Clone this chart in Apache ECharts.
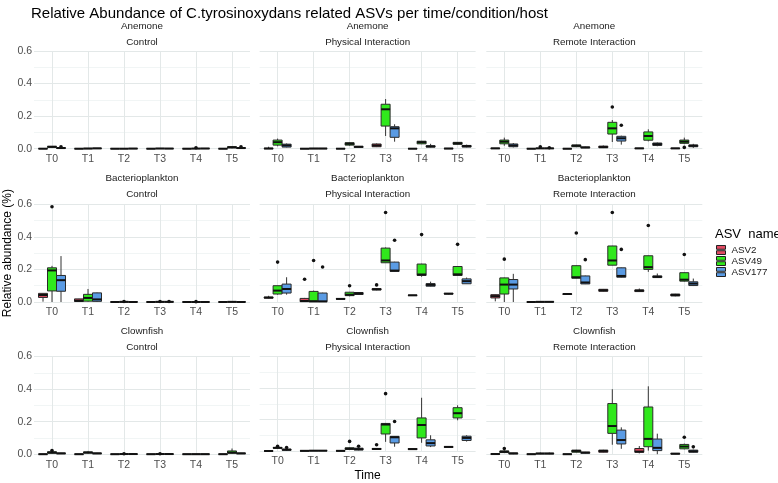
<!DOCTYPE html>
<html>
<head>
<meta charset="utf-8">
<script src="https://cdn.jsdelivr.net/npm/echarts@6/dist/echarts.min.js"></script>
<style>html,body{margin:0;padding:0;background:#fff}#chart{width:778px;height:483px}</style>
</head>
<body>
<div id="chart"></div>
<script>
// ---------- categories ----------
const times = ['T0', 'T1', 'T2', 'T3', 'T4', 'T5'];
const hosts = ['Anemone', 'Bacterioplankton', 'Clownfish'];
const conditions = ['Control', 'Physical Interaction', 'Remote Interaction'];
const asvNames = ['ASV2', 'ASV49', 'ASV177'];
const yTickLabels = ['0.0', '0.2', '0.4', '0.6'];

// ---------- box statistics per time: [min, q1, median, q3, max] ----------
// Anemone / Control
const anemCtrl_ASV2   = [[0,0,0,0.001,0.001],[0,0,0,0,0],[0,0,0,0,0],[0,0,0,0,0],[0,0,0,0,0],[0,0,0,0,0.001]];
const anemCtrl_ASV49  = [[0.004,0.008,0.012,0.014,0.015],[0,0,0.001,0.002,0.003],[0,0,0,0.001,0.001],[0,0.001,0.001,0.002,0.003],[0,0,0.001,0.001,0.002],[0.002,0.005,0.009,0.012,0.015]];
const anemCtrl_ASV177 = [[0,0.002,0.004,0.006,0.008],[0,0.001,0.002,0.003,0.004],[0,0,0.001,0.001,0.002],[0,0,0.001,0.001,0.002],[0,0.001,0.001,0.002,0.003],[0,0.002,0.004,0.006,0.008]];
const anemCtrl_out    = [[0,2,0.012],[4,1,0.006],[5,2,0.012]];
// Anemone / Physical Interaction
const anemPhys_ASV2   = [[0,0,0.001,0.003,0.012],[0,0,0,0,0],[0,0,0,0.001,0.002],[0.01,0.012,0.02,0.029,0.032],[0,0,0,0.001,0.002],[0,0,0.001,0.002,0.003]];
const anemPhys_ASV49  = [[0.015,0.022,0.04,0.053,0.062],[0,0,0.001,0.002,0.003],[0.018,0.022,0.03,0.037,0.04],[0.078,0.139,0.242,0.273,0.305],[0.028,0.03,0.04,0.046,0.048],[0.025,0.027,0.033,0.039,0.04]];
const anemPhys_ASV177 = [[0.008,0.01,0.02,0.028,0.032],[0,0,0.001,0.002,0.003],[0.005,0.008,0.012,0.014,0.016],[0.043,0.07,0.125,0.135,0.15],[0.008,0.01,0.014,0.018,0.03],[0.008,0.01,0.016,0.02,0.025]];
const anemPhys_out    = [];
// Anemone / Remote Interaction
const anemRem_ASV2    = [[0,0.001,0.002,0.003,0.004],[0,0,0,0,0],[0,0,0,0,0.001],[0.004,0.006,0.01,0.016,0.02],[0,0.001,0.002,0.003,0.004],[0,0.001,0.002,0.003,0.004]];
const anemRem_ASV49   = [[0.018,0.03,0.043,0.053,0.068],[0,0.001,0.002,0.003,0.004],[0.01,0.012,0.018,0.023,0.025],[0.041,0.09,0.125,0.162,0.176],[0.045,0.052,0.078,0.103,0.119],[0.028,0.033,0.043,0.053,0.068]];
const anemRem_ASV177  = [[0.008,0.012,0.02,0.029,0.035],[0,0.001,0.002,0.003,0.004],[0.004,0.005,0.008,0.01,0.012],[0.025,0.047,0.064,0.076,0.08],[0.015,0.02,0.028,0.035,0.038],[0.005,0.012,0.018,0.023,0.03]];
const anemRem_out     = [[1,1,0.012],[1,2,0.006],[3,1,0.256],[3,2,0.144],[5,1,0.008]];
// Bacterioplankton / Control
const bactCtrl_ASV2   = [[0.002,0.028,0.043,0.053,0.055],[0.002,0.003,0.008,0.019,0.02],[0,0,0,0,0],[0,0,0,0,0],[0,0,0,0,0],[0,0,0,0,0]];
const bactCtrl_ASV49  = [[0,0.068,0.194,0.21,0.222],[0.002,0.005,0.025,0.047,0.08],[0,0,0.001,0.001,0.002],[0,0,0.001,0.001,0.002],[0,0,0,0.001,0.001],[0,0,0.001,0.001,0.002]];
const bactCtrl_ASV177 = [[0,0.066,0.134,0.163,0.282],[0,0.004,0.016,0.056,0.058],[0,0,0,0.001,0.001],[0,0,0.001,0.001,0.002],[0,0,0,0,0.001],[0,0,0,0.001,0.001]];
const bactCtrl_out    = [[0,1,0.585],[2,1,0.003],[3,1,0.003],[3,2,0.003],[4,1,0.002]];
// Bacterioplankton / Physical Interaction
const bactPhys_ASV2   = [[0.022,0.024,0.027,0.03,0.038],[0,0.002,0.006,0.022,0.025],[0.016,0.018,0.019,0.02,0.021],[0.072,0.074,0.078,0.082,0.085],[0.038,0.04,0.041,0.042,0.043],[0.047,0.049,0.051,0.053,0.055]];
const bactPhys_ASV49  = [[0.045,0.049,0.07,0.1,0.1],[0,0.001,0.005,0.065,0.07],[0.035,0.039,0.045,0.06,0.062],[0.24,0.241,0.255,0.331,0.335],[0.155,0.163,0.169,0.233,0.235],[0.16,0.163,0.17,0.218,0.22]];
const bactPhys_ASV177 = [[0.045,0.055,0.08,0.11,0.152],[0,0.002,0.004,0.055,0.057],[0.045,0.046,0.053,0.058,0.06],[0.187,0.188,0.193,0.245,0.247],[0.095,0.097,0.105,0.113,0.125],[0.111,0.112,0.128,0.142,0.15]];
const bactPhys_out    = [[0,1,0.245],[1,0,0.14],[1,1,0.255],[1,2,0.215],[2,1,0.1],[3,0,0.105],[3,1,0.55],[3,2,0.379],[4,1,0.414],[5,1,0.354]];
// Bacterioplankton / Remote Interaction
const bactRem_ASV2    = [[0.004,0.025,0.036,0.045,0.047],[0,0,0,0,0],[0.046,0.047,0.049,0.05,0.051],[0.064,0.066,0.072,0.078,0.08],[0.062,0.064,0.07,0.074,0.083],[0.035,0.037,0.043,0.049,0.05]];
const bactRem_ASV49   = [[0,0.049,0.107,0.148,0.15],[0,0,0.001,0.001,0.002],[0.145,0.146,0.152,0.223,0.225],[0.225,0.226,0.255,0.344,0.345],[0.185,0.2,0.214,0.284,0.286],[0.125,0.128,0.137,0.18,0.182]];
const bactRem_ASV177  = [[0,0.08,0.107,0.138,0.173],[0,0,0.001,0.002,0.004],[0.11,0.111,0.12,0.16,0.162],[0.15,0.152,0.16,0.21,0.212],[0.148,0.15,0.155,0.16,0.175],[0.098,0.101,0.113,0.124,0.144]];
const bactRem_out     = [[0,1,0.263],[2,1,0.424],[2,2,0.26],[3,1,0.55],[3,2,0.323],[4,1,0.47],[5,1,0.292]];
// Clownfish / Control
const clowCtrl_ASV2   = [[0,0,0,0,0],[0,0,0,0,0],[0,0,0,0,0],[0,0,0,0,0],[0,0,0,0,0],[0,0,0,0,0.001]];
const clowCtrl_ASV49  = [[0.004,0.006,0.01,0.015,0.022],[0.004,0.007,0.01,0.014,0.02],[0,0,0.001,0.001,0.002],[0,0,0.001,0.001,0.002],[0,0,0,0.001,0.001],[0.004,0.006,0.01,0.02,0.035]];
const clowCtrl_ASV177 = [[0.002,0.003,0.005,0.007,0.008],[0.002,0.003,0.005,0.007,0.008],[0,0,0.001,0.001,0.002],[0,0,0.001,0.001,0.002],[0,0,0,0.001,0.001],[0.002,0.003,0.005,0.007,0.008]];
const clowCtrl_out    = [[0,1,0.022],[2,1,0.003],[3,1,0.003]];
// Clownfish / Physical Interaction
const clowPhys_ASV2   = [[0,0,0,0,0.001],[0,0,0.001,0.001,0.002],[0,0,0.001,0.001,0.002],[0.008,0.01,0.013,0.016,0.018],[0.008,0.01,0.012,0.015,0.017],[0.022,0.024,0.026,0.027,0.028]];
const clowPhys_ASV49  = [[0.015,0.018,0.02,0.022,0.025],[0,0.001,0.002,0.003,0.004],[0.008,0.01,0.015,0.02,0.022],[0.058,0.108,0.168,0.175,0.178],[0.052,0.083,0.165,0.21,0.338],[0.195,0.21,0.24,0.275,0.29]];
const clowPhys_ASV177 = [[0,0.005,0.008,0.012,0.015],[0,0.001,0.002,0.003,0.004],[0.004,0.006,0.012,0.018,0.02],[0.027,0.051,0.087,0.093,0.095],[0.025,0.032,0.05,0.071,0.1],[0.06,0.067,0.083,0.094,0.1]];
const clowPhys_out    = [[0,1,0.03],[0,2,0.022],[2,1,0.061],[2,2,0.03],[3,0,0.04],[3,1,0.364],[3,2,0.187]];
// Clownfish / Remote Interaction
const clowRem_ASV2    = [[0,0,0.001,0.002,0.003],[0,0,0,0,0.001],[0,0,0,0,0.001],[0.01,0.012,0.02,0.025,0.027],[0.005,0.012,0.016,0.035,0.05],[0,0.001,0.003,0.005,0.006]];
const clowRem_ASV49   = [[0.008,0.01,0.015,0.02,0.025],[0,0.002,0.004,0.006,0.01],[0.01,0.012,0.02,0.025,0.027],[0.058,0.128,0.173,0.311,0.399],[0.022,0.046,0.094,0.29,0.417],[0.03,0.033,0.047,0.06,0.065]];
const clowRem_ASV177  = [[0,0.002,0.005,0.007,0.008],[0,0.002,0.004,0.006,0.01],[0.004,0.006,0.01,0.012,0.014],[0.033,0.063,0.087,0.148,0.165],[0,0.022,0.039,0.093,0.126],[0.01,0.012,0.018,0.025,0.028]];
const clowRem_out     = [[0,1,0.035],[5,1,0.104],[5,2,0.045]];

// panels in row-major order (host x condition)
const panelBoxes = [
  [anemCtrl_ASV2, anemCtrl_ASV49, anemCtrl_ASV177],
  [anemPhys_ASV2, anemPhys_ASV49, anemPhys_ASV177],
  [anemRem_ASV2,  anemRem_ASV49,  anemRem_ASV177],
  [bactCtrl_ASV2, bactCtrl_ASV49, bactCtrl_ASV177],
  [bactPhys_ASV2, bactPhys_ASV49, bactPhys_ASV177],
  [bactRem_ASV2,  bactRem_ASV49,  bactRem_ASV177],
  [clowCtrl_ASV2, clowCtrl_ASV49, clowCtrl_ASV177],
  [clowPhys_ASV2, clowPhys_ASV49, clowPhys_ASV177],
  [clowRem_ASV2,  clowRem_ASV49,  clowRem_ASV177]
];
const panelOutliers = [anemCtrl_out, anemPhys_out, anemRem_out, bactCtrl_out, bactPhys_out, bactRem_out, clowCtrl_out, clowPhys_out, clowRem_out];

// ---------- styling / layout ----------
const FONT = "'Liberation Sans', Arial, Helvetica, sans-serif";
const COLORS = ['#E04A62', '#30E81C', '#5A9BE4'];
const GRID_MAJOR = '#e3e8e8';
const GRID_MINOR = '#eef2f2';
const colLeft = [34, 259.6, 486.3];
const rowTop = [51, 204.3, 356.5];
const PW = 216, PH = 97.7;
const TICK_FS = 10.5;

function boxRenderer(k) {
  return function (params, api) {
    const t = api.value(0);
    const band = api.size([1, 0])[0];
    const w = band * 0.25;
    const cx = api.coord([t, 0])[0] + (k - 1) * w;
    const yv = i => api.coord([t, api.value(i)])[1];
    const yMin = yv(1), yQ1 = yv(2), yMed = yv(3), yQ3 = yv(4), yMax = yv(5);
    return {
      type: 'group',
      children: [
        { type: 'line', shape: { x1: cx, y1: yMax, x2: cx, y2: yQ3 }, style: { stroke: '#333', lineWidth: 1 } },
        { type: 'line', shape: { x1: cx, y1: yQ1, x2: cx, y2: yMin }, style: { stroke: '#333', lineWidth: 1 } },
        { type: 'rect', shape: { x: cx - w / 2, y: yQ3, width: w, height: Math.max(yQ1 - yQ3, 0) },
          style: { fill: COLORS[k], stroke: '#2a2a2a', lineWidth: 1 } },
        { type: 'line', shape: { x1: cx - w / 2, y1: yMed, x2: cx + w / 2, y2: yMed }, style: { stroke: '#111', lineWidth: 2 } }
      ]
    };
  };
}
function outlierRenderer(params, api) {
  const t = api.value(0), k = api.value(1);
  const band = api.size([1, 0])[0];
  const p = api.coord([t, api.value(2)]);
  return { type: 'circle', shape: { cx: p[0] + (k - 1) * band * 0.25, cy: p[1], r: 1.8 }, style: { fill: '#111' } };
}

const grids = [], xAxes = [], yAxes = [], series = [], graphics = [];
for (let r = 0; r < 3; r++) {
  for (let c = 0; c < 3; c++) {
    const g = r * 3 + c;
    grids.push({ left: colLeft[c], top: rowTop[r], width: PW, height: PH });
    const xa = {
      type: 'category', gridIndex: g, data: times, boundaryGap: true,
      axisLine: { show: false }, axisTick: { show: false, alignWithLabel: true },
      axisLabel: { color: '#4d4d4d', fontSize: TICK_FS, fontFamily: FONT, margin: 5, interval: 0 },
      splitLine: { show: true, alignWithLabel: true, interval: 0, lineStyle: { color: GRID_MAJOR, width: 1 } }
    };
    if (g === 7) {
      xa.name = 'Time'; xa.nameLocation = 'middle'; xa.nameGap = 19;
      xa.nameTextStyle = { fontSize: 12, color: '#000', fontFamily: FONT };
    }
    xAxes.push(xa);
    const ya = {
      type: 'value', gridIndex: g, min: 0, max: 0.6, interval: 0.2,
      axisLine: { show: false }, axisTick: { show: false },
      axisLabel: { show: c === 0, color: '#4d4d4d', fontSize: TICK_FS, fontFamily: FONT, margin: 2,
                   formatter: v => yTickLabels[Math.round(v / 0.2)] },
      splitLine: { show: true, lineStyle: { color: GRID_MAJOR, width: 1 } },
      minorTick: { show: false, splitNumber: 2 },
      minorSplitLine: { show: true, lineStyle: { color: GRID_MINOR, width: 0.8 } }
    };
    if (g === 3) {
      ya.name = 'Relative abundance (%)'; ya.nameLocation = 'middle'; ya.nameGap = 20;
      ya.nameTextStyle = { fontSize: 12, color: '#000', fontFamily: FONT };
    }
    yAxes.push(ya);
    for (let k = 0; k < 3; k++) {
      series.push({
        type: 'custom', name: asvNames[k], xAxisIndex: g, yAxisIndex: g, clip: false, z: 3,
        renderItem: boxRenderer(k), itemStyle: { color: COLORS[k] },
        encode: { x: 0, y: [1, 2, 3, 4, 5] },
        data: panelBoxes[g][k].map((v, i) => [i].concat(v))
      });
    }
    series.push({
      type: 'custom', xAxisIndex: g, yAxisIndex: g, clip: false, z: 4,
      renderItem: outlierRenderer, encode: { x: 0, y: 2 },
      data: panelOutliers[g]
    });
    const cx = colLeft[c] + PW / 2;
    const stripY = [26, 178.3, 331.5][r];
    graphics.push({ type: 'text', x: cx, y: stripY, style: { text: hosts[r], fill: '#1a1a1a', fontSize: 9.8, fontFamily: FONT, align: 'center', verticalAlign: 'middle' } });
    graphics.push({ type: 'text', x: cx, y: stripY + 16, style: { text: conditions[c], fill: '#1a1a1a', fontSize: 9.8, fontFamily: FONT, align: 'center', verticalAlign: 'middle' } });
  }
}
graphics.push({ type: 'text', x: 715, y: 234, style: { text: 'ASV  name', fill: '#000', fontSize: 13, fontFamily: FONT, align: 'left', verticalAlign: 'middle' } });

const ICON = 'path://M0,0H10V4.2H0Z M0,5.8H10V10H0Z';
const chart = echarts.init(document.getElementById('chart'), null, { renderer: 'canvas' });
chart.setOption({
  animation: false,
  backgroundColor: '#fff',
  color: COLORS,
  textStyle: { fontFamily: FONT },
  title: {
    text: 'Relative Abundance of C.tyrosinoxydans related ASVs per time/condition/host',
    left: 26, top: 1,
    textStyle: { fontSize: 15, fontWeight: 'normal', color: '#000', fontFamily: FONT }
  },
  legend: {
    orient: 'vertical', left: 716, top: 245, itemWidth: 11, itemHeight: 9, itemGap: 1,
    padding: 0,
    selectedMode: false,
    data: asvNames.map(n => ({ name: n, icon: ICON })),
    itemStyle: { borderColor: '#222', borderWidth: 1 },
    textStyle: { fontSize: 9.8, color: '#1a1a1a', fontFamily: FONT }
  },
  grid: grids,
  xAxis: xAxes,
  yAxis: yAxes,
  series: series,
  graphic: graphics
});
</script>
</body>
</html>
